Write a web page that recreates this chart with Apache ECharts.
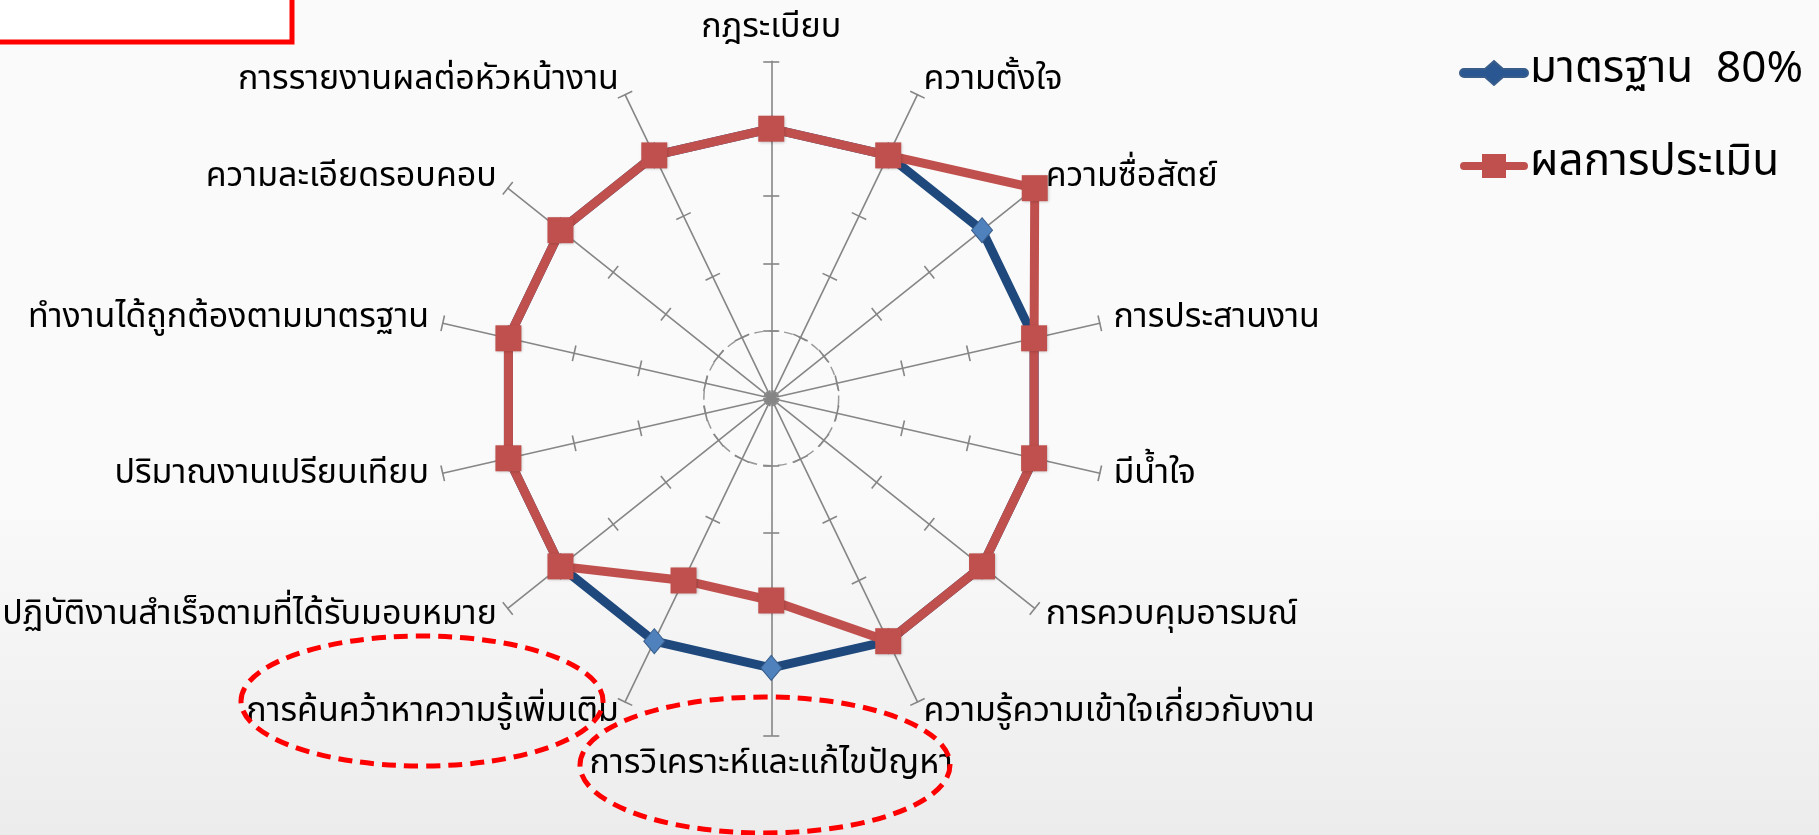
<!DOCTYPE html>
<html>
<head>
<meta charset="utf-8">
<title>Radar</title>
<script src="https://cdn.jsdelivr.net/npm/echarts@6/dist/echarts.min.js"></script>
<style>
    html, body {margin: 0; padding: 0; background: #f7f7f7;}
    #radar_chart {width: 1819px; height: 835px;}
</style>
</head>
<body>
<div id="radar_chart"></div>
<script>
// categories listed clockwise from the top, as in the original sheet
var categories = [
    "กฎระเบียบ",
    "ความตั้งใจ",
    "ความซื่อสัตย์",
    "การประสานงาน",
    "มีน้ำใจ",
    "การควบคุมอารมณ์",
    "ความรู้ความเข้าใจเกี่ยวกับงาน",
    "การวิเคราะห์และแก้ไขปัญหา",
    "การค้นคว้าหาความรู้เพิ่มเติม",
    "ปฏิบัติงานสำเร็จตามที่ได้รับมอบหมาย",
    "ปริมาณงานเปรียบเทียบ",
    "ทำงานได้ถูกต้องตามมาตรฐาน",
    "ความละเอียดรอบคอบ",
    "การรายงานผลต่อหัวหน้างาน"
];
var standard_values = [4, 4, 4, 4, 4, 4, 4, 4, 4, 4, 4, 4, 4, 4];
var result_values = [4, 4, 5, 4, 4, 4, 4, 3, 3, 4, 4, 4, 4, 4];
var series_names = ["มาตรฐาน  80%", "ผลการประเมิน"];
var scale_max = 5;

// echarts lays indicators out counter-clockwise, so flip the order after the first one
function to_ccw(list) {
    return [list[0]].concat(list.slice(1).reverse());
}

function load_radar_chart() {
    var thai_font = "'Noto Sans Thai', 'Noto Sans', Tahoma, sans-serif";
    var indicators = to_ccw(categories).map(function (name) {
        return {name: name, min: 0, max: scale_max};
    });
    var plain_indicators = indicators.map(function (ind) {
        return {name: "", min: ind.min, max: ind.max};
    });
    var center = ["42.4%", "47.7%"];
    var radius = 337;

    var radar_option = {
        backgroundColor: {
            type: "linear", x: 0, y: 0, x2: 0, y2: 1,
            colorStops: [
                {offset: 0, color: "#fafafa"},
                {offset: 0.6, color: "#fafafa"},
                {offset: 1, color: "#ececec"}
            ]
        },
        textStyle: {fontFamily: thai_font},
        legend: {
            orient: "vertical",
            left: 1454,
            top: 46,
            itemGap: 49,
            itemWidth: 70,
            itemHeight: 24,
            textStyle: {fontSize: 44, color: "#000", fontFamily: thai_font, padding: [0, 0, 0, -4]},
            data: [
                {
                    name: series_names[0],
                    icon: "path://M5,8 L26,8 L35,0 L44,8 L65,8 A4,4 0 0 1 65,16 L44,16 L35,24 L26,16 L5,16 A4,4 0 0 1 5,8 Z",
                    itemStyle: {color: "#2a5791"}
                },
                {
                    name: series_names[1],
                    icon: "path://M5,8 L23,8 L23,0 L47,0 L47,8 L65,8 A4,4 0 0 1 65,16 L47,16 L47,24 L23,24 L23,16 L5,16 A4,4 0 0 1 5,8 Z",
                    itemStyle: {color: "#c0504d"}
                }
            ]
        },
        radar: [
            {
                indicator: indicators,
                center: center,
                radius: radius,
                startAngle: 90,
                splitNumber: 5,
                shape: "circle",
                axisNameGap: 14,
                axisName: {color: "#000", fontSize: 34, fontFamily: thai_font},
                axisLine: {lineStyle: {color: "#868686", width: 1.6}},
                axisTick: {show: true, length: 8, lineStyle: {color: "#868686", width: 1.6}},
                splitLine: {
                    lineStyle: {
                        color: ["rgba(0,0,0,0)", "#9a9a9a", "rgba(0,0,0,0)", "rgba(0,0,0,0)", "rgba(0,0,0,0)", "rgba(0,0,0,0)"],
                        type: [9, 6],
                        width: 1.5
                    }
                },
                splitArea: {show: false}
            },
            {
                // second copy only to give the ticks their other half
                indicator: plain_indicators,
                center: center,
                radius: radius,
                startAngle: 90,
                splitNumber: 5,
                shape: "circle",
                axisName: {show: false},
                axisLine: {show: false},
                axisTick: {show: true, length: -8, lineStyle: {color: "#868686", width: 1.6}},
                splitLine: {show: false},
                splitArea: {show: false}
            }
        ],
        series: [
            {
                type: "radar",
                radarIndex: 0,
                z: 3,
                symbol: "diamond",
                symbolSize: [21, 25],
                lineStyle: {color: "#1f497d", width: 9},
                itemStyle: {color: "#4f81bd", borderColor: "#385d8a", borderWidth: 1},
                data: [{name: series_names[0], value: to_ccw(standard_values)}]
            },
            {
                type: "radar",
                radarIndex: 0,
                z: 4,
                symbol: "rect",
                symbolSize: 26,
                lineStyle: {color: "#c0504d", width: 9},
                itemStyle: {color: "#c0504d", shadowBlur: 3, shadowColor: "rgba(0,0,0,0.25)", shadowOffsetX: 1, shadowOffsetY: 1},
                data: [{name: series_names[1], value: to_ccw(result_values)}]
            }
        ],
        graphic: [
            {
                type: "rect",
                z: 10,
                shape: {x: -10, y: -10, width: 302, height: 52},
                style: {fill: "#ffffff", stroke: "#ff0000", lineWidth: 5}
            },
            {
                type: "ellipse",
                z: 10,
                shape: {cx: 422, cy: 701, rx: 181, ry: 65},
                style: {fill: null, stroke: "#ff0000", lineWidth: 5, lineDash: [14, 8]}
            },
            {
                type: "ellipse",
                z: 10,
                shape: {cx: 765, cy: 765, rx: 185, ry: 68},
                style: {fill: null, stroke: "#ff0000", lineWidth: 5, lineDash: [14, 8]}
            }
        ]
    };
    var radar_chart = echarts.init(document.getElementById("radar_chart"));
    radar_chart.setOption(radar_option);
}

load_radar_chart();
</script>
</body>
</html>
